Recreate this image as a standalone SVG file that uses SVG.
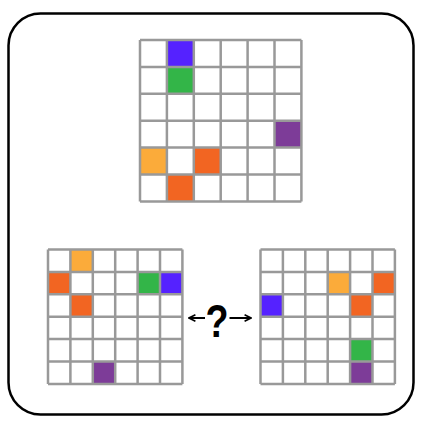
<svg xmlns="http://www.w3.org/2000/svg" width="422" height="423" viewBox="0 0 422 423">
<style>
.grid{fill:none;stroke:#999;stroke-width:2.5}
.b{fill:#5522ff}.g{fill:#33b548}.p{fill:#7d3c98}.y{fill:#fbab3a}.o{fill:#f26522}
.arr{stroke:#000;stroke-width:2;fill:none}
</style>
<defs>
<marker id="ah" viewBox="0 0 10 10" refX="9" refY="5" markerWidth="8" markerHeight="9" orient="auto-start-reverse" markerUnits="userSpaceOnUse">
<path d="M1,1 L9,5 L1,9" fill="none" stroke="#000" stroke-width="2"/>
</marker>
</defs>
<rect width="422" height="423" fill="#fff"/>
<rect x="8.5" y="13.5" width="405" height="401" rx="32" ry="32" fill="none" stroke="#000" stroke-width="2.5"/>
<g id="top-grid" transform="translate(140,40)">
<rect class="b" x="26.9" y="0" width="26.9" height="26.9"/>
<rect class="g" x="26.9" y="26.9" width="26.9" height="26.9"/>
<rect class="p" x="134.5" y="80.7" width="26.9" height="26.9"/>
<rect class="y" x="0" y="107.6" width="26.9" height="26.9"/>
<rect class="o" x="53.8" y="107.6" width="26.9" height="26.9"/>
<rect class="o" x="26.9" y="134.5" width="26.9" height="26.9"/>
<path class="grid" d="M0,0H161.4M0,26.9H161.4M0,53.8H161.4M0,80.7H161.4M0,107.6H161.4M0,134.5H161.4M0,161.4H161.4M0,0V161.4M26.9,0V161.4M53.8,0V161.4M80.7,0V161.4M107.6,0V161.4M134.5,0V161.4M161.4,0V161.4"/>
</g>
<g id="left-grid" transform="translate(48,249.5)">
<rect class="y" x="22.4" y="0" width="22.4" height="22.4"/>
<rect class="o" x="0" y="22.4" width="22.4" height="22.4"/>
<rect class="g" x="89.6" y="22.4" width="22.4" height="22.4"/>
<rect class="b" x="112" y="22.4" width="22.4" height="22.4"/>
<rect class="o" x="22.4" y="44.8" width="22.4" height="22.4"/>
<rect class="p" x="44.8" y="112" width="22.4" height="22.4"/>
<path class="grid" d="M0,0H134.4M0,22.4H134.4M0,44.8H134.4M0,67.2H134.4M0,89.6H134.4M0,112H134.4M0,134.4H134.4M0,0V134.4M22.4,0V134.4M44.8,0V134.4M67.2,0V134.4M89.6,0V134.4M112,0V134.4M134.4,0V134.4"/>
</g>
<g id="right-grid" transform="translate(260.5,249.5)">
<rect class="y" x="67.2" y="22.4" width="22.4" height="22.4"/>
<rect class="o" x="112" y="22.4" width="22.4" height="22.4"/>
<rect class="b" x="0" y="44.8" width="22.4" height="22.4"/>
<rect class="o" x="89.6" y="44.8" width="22.4" height="22.4"/>
<rect class="g" x="89.6" y="89.6" width="22.4" height="22.4"/>
<rect class="p" x="89.6" y="112" width="22.4" height="22.4"/>
<path class="grid" d="M0,0H134.4M0,22.4H134.4M0,44.8H134.4M0,67.2H134.4M0,89.6H134.4M0,112H134.4M0,134.4H134.4M0,0V134.4M22.4,0V134.4M44.8,0V134.4M67.2,0V134.4M89.6,0V134.4M112,0V134.4M134.4,0V134.4"/>
</g>
<g id="connectors">
<line class="arr" x1="205" y1="318" x2="189" y2="318" marker-end="url(#ah)"/>
<line class="arr" x1="229.5" y1="318" x2="251" y2="318" marker-end="url(#ah)"/>
</g>
<g id="question">
<text transform="translate(217,336.5) scale(0.82,1)" font-family="Liberation Sans, Arial, sans-serif" font-weight="bold" font-size="46" text-anchor="middle">?</text>
</g>
</svg>
